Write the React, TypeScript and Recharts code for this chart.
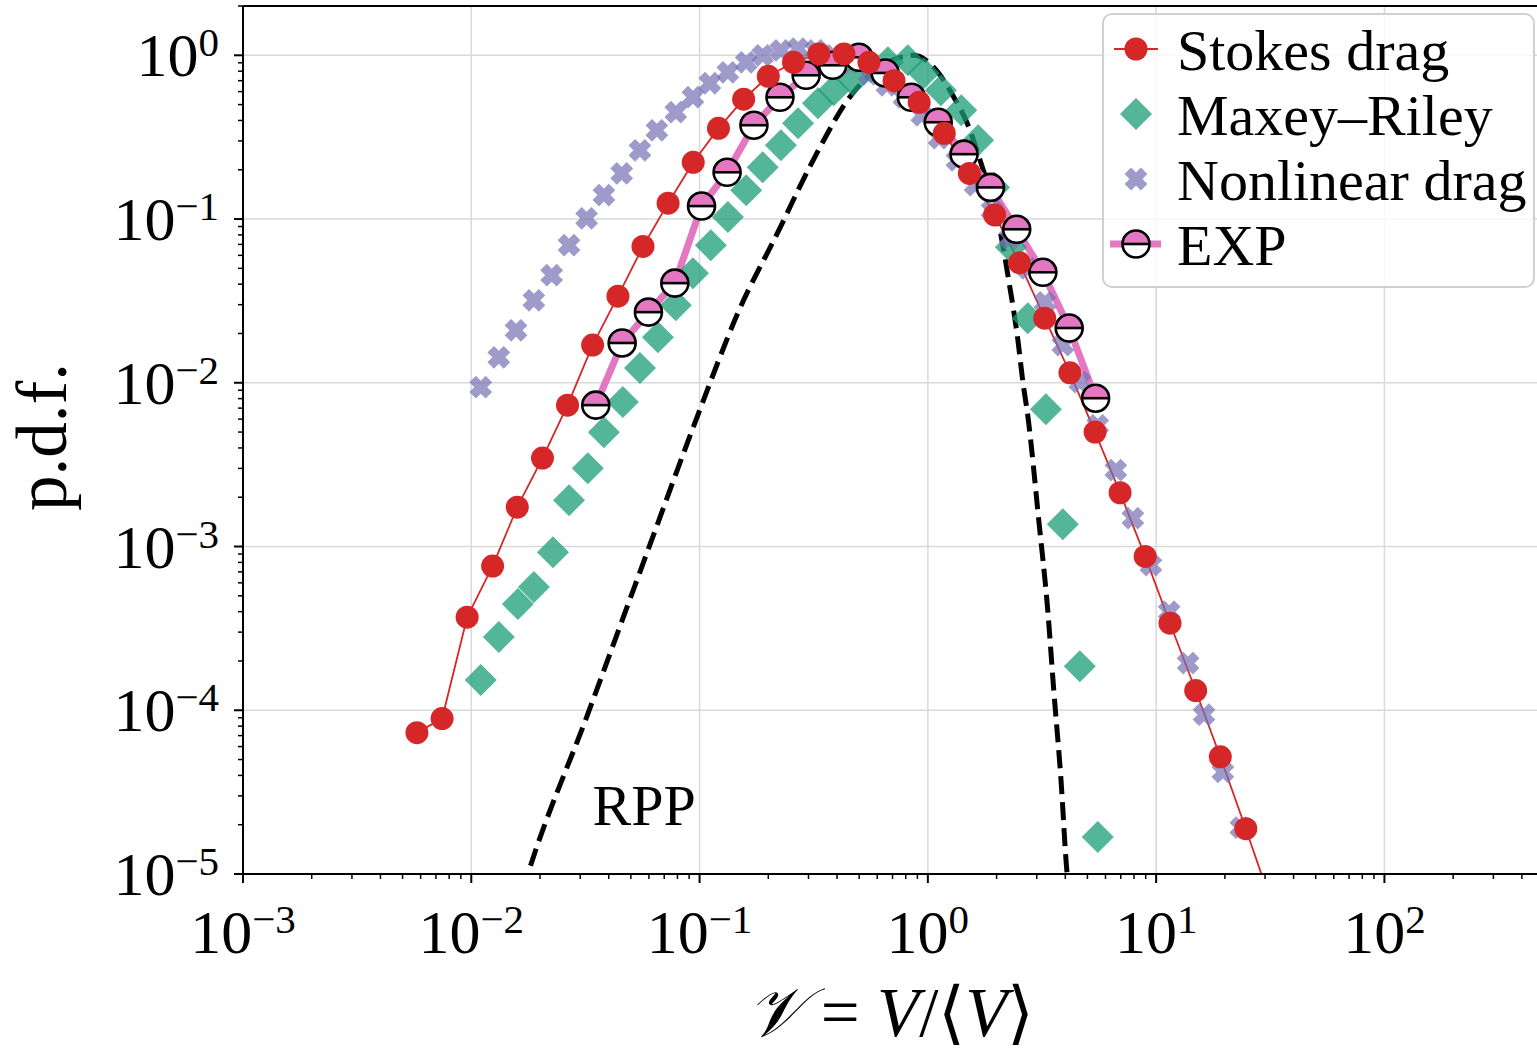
import React from 'react'
import {
  ComposedChart,
  Line,
  Scatter,
  XAxis,
  YAxis,
  CartesianGrid,
  Legend,
  ReferenceLine,
  ReferenceDot,
} from 'recharts'

const FONT = '"Liberation Serif", "Times New Roman", Times, serif'
const RED = '#d62728'
const GREEN = '#1b9e77'
const PURPLE = '#7570b3'
const PINK = '#e377c2'

// Stokes drag (red circles + thin line)
const stokesV = [0.00578, 0.00745, 0.00959, 0.0124, 0.0159, 0.0205, 0.0264, 0.034, 0.0439, 0.0565, 0.0728, 0.0938, 0.121, 0.156, 0.2, 0.258, 0.333, 0.429, 0.552, 0.711, 0.916, 1.18, 1.52, 1.96, 2.52, 3.25, 4.19, 5.4, 6.95, 8.95, 11.5, 14.9, 19.1, 24.7, 31.8]
const stokesPdf = [7.3e-5, 8.9e-5, 3.7e-4, 7.6e-4, 1.74e-3, 3.47e-3, 7.3e-3, 0.017, 0.0338, 0.068, 0.125, 0.222, 0.358, 0.539, 0.744, 0.906, 1.02, 1.02, 0.906, 0.7, 0.516, 0.334, 0.19, 0.106, 0.054, 0.0248, 0.0115, 5.0e-3, 2.13e-3, 8.7e-4, 3.4e-4, 1.32e-4, 5.2e-5, 1.89e-5, 6.8e-6]

// Maxey–Riley (green diamonds)
const maxeyV = [0.011, 0.0132, 0.016, 0.0188, 0.0228, 0.0268, 0.0324, 0.0381, 0.0461, 0.0548, 0.0657, 0.0787, 0.0935, 0.112, 0.133, 0.16, 0.189, 0.227, 0.27, 0.33, 0.387, 0.469, 0.563, 0.668, 0.817, 0.96, 1.14, 1.4, 1.66, 1.95, 2.31, 2.74, 3.29, 3.9, 4.63, 5.55]
const maxeyPdf = [1.53e-4, 2.8e-4, 4.45e-4, 5.65e-4, 9.24e-4, 1.92e-3, 3.01e-3, 4.99e-3, 7.62e-3, 0.0123, 0.019, 0.0298, 0.0467, 0.0692, 0.103, 0.15, 0.207, 0.282, 0.385, 0.509, 0.611, 0.703, 0.845, 0.906, 0.932, 0.776, 0.611, 0.461, 0.303, 0.156, 0.0673, 0.0248, 6.9e-3, 1.37e-3, 1.86e-4, 1.68e-5]

// Nonlinear drag (purple crosses)
const nonlinV = [0.011, 0.0132, 0.0157, 0.0188, 0.0225, 0.0268, 0.032, 0.0381, 0.0456, 0.0548, 0.065, 0.0787, 0.0935, 0.111, 0.133, 0.16, 0.189, 0.227, 0.27, 0.323, 0.387, 0.46, 0.551, 0.662, 0.785, 0.941, 1.12, 1.34, 1.61, 1.91, 2.29, 2.74, 3.26, 3.9, 4.63, 5.55, 6.66, 7.91, 9.49, 11.4, 13.8, 16.2, 19.6, 23.5, 28.2]
const nonlinPdf = [9.4e-3, 0.0143, 0.0209, 0.0319, 0.0454, 0.0692, 0.101, 0.14, 0.19, 0.263, 0.348, 0.449, 0.555, 0.675, 0.787, 0.906, 1.0, 1.07, 1.1, 1.07, 1.0, 0.906, 0.765, 0.656, 0.554, 0.43, 0.312, 0.228, 0.161, 0.113, 0.0764, 0.05, 0.031, 0.017, 0.0101, 5.5e-3, 2.93e-3, 1.49e-3, 7.7e-4, 4.0e-4, 1.94e-4, 9.4e-5, 4.2e-5, 1.92e-5, 8.6e-6]

// EXP (pink line, half-filled circles)
const expV = [0.0351, 0.0458, 0.0597, 0.0779, 0.102, 0.132, 0.173, 0.225, 0.293, 0.383, 0.499, 0.65, 0.847, 1.11, 1.44, 1.88, 2.45, 3.19, 4.16, 5.43]
const expPdf = [7.3e-3, 0.0175, 0.027, 0.0406, 0.12, 0.193, 0.374, 0.554, 0.755, 0.869, 0.972, 0.78, 0.554, 0.39, 0.249, 0.156, 0.0866, 0.0473, 0.0216, 8.05e-3]

// RPP (dashed curve)
const rppV = [0.0168, 0.0177, 0.0324, 0.0594, 0.0993, 0.147, 0.227, 0.278, 0.35, 0.429, 0.525, 0.655, 0.869, 1.06, 1.3, 1.5, 1.71, 1.89, 2.09, 2.26, 2.48, 2.61, 2.74, 3.06, 3.35, 3.56, 3.83, 4.06, 4.15]
const rppPdf = [7.9e-6, 1.0e-5, 9.5e-5, 9.5e-4, 6.6e-3, 0.0266, 0.0904, 0.163, 0.303, 0.495, 0.703, 0.894, 1.0, 0.845, 0.554, 0.374, 0.219, 0.14, 0.0796, 0.0423, 0.0182, 0.01, 6.3e-3, 1.45e-3, 4.1e-4, 1.33e-4, 3.75e-5, 1.06e-5, 7.9e-6]

const seriesNames = ['Stokes drag', 'Maxey–Riley', 'Nonlinear drag', 'EXP']

const xMajor = [0.001, 0.01, 0.1, 1, 10, 100]
const xExponents = ['−3', '−2', '−1', '0', '1', '2']
const xMinor = [
  0.002, 0.003, 0.004, 0.005, 0.006, 0.007, 0.008, 0.009,
  0.02, 0.03, 0.04, 0.05, 0.06, 0.07, 0.08, 0.09,
  0.2, 0.3, 0.4, 0.5, 0.6, 0.7, 0.8, 0.9,
  2, 3, 4, 5, 6, 7, 8, 9,
  20, 30, 40, 50, 60, 70, 80, 90,
  200, 300, 400, 500,
]
const yMajor = [0.00001, 0.0001, 0.001, 0.01, 0.1, 1]
const yExponents = ['−5', '−4', '−3', '−2', '−1', '0']
const yMinor = [
  0.00002, 0.00003, 0.00004, 0.00005, 0.00006, 0.00007, 0.00008, 0.00009,
  0.0002, 0.0003, 0.0004, 0.0005, 0.0006, 0.0007, 0.0008, 0.0009,
  0.002, 0.003, 0.004, 0.005, 0.006, 0.007, 0.008, 0.009,
  0.02, 0.03, 0.04, 0.05, 0.06, 0.07, 0.08, 0.09,
  0.2, 0.3, 0.4, 0.5, 0.6, 0.7, 0.8, 0.9,
  2,
]

const zip = (v: number[], p: number[]) => v.map((x, i) => ({ x, y: p[i] }))
const stokesData = zip(stokesV, stokesPdf)
const maxeyData = zip(maxeyV, maxeyPdf)
const nonlinData = zip(nonlinV, nonlinPdf)
const expData = zip(expV, expPdf)
const rppData = zip(rppV, rppPdf)

// filled "X" marker, unit outline (a plus rotated by 45 degrees)
const CROSS_UNIT = [
  [-0.212, 0.495], [0, 0.283], [0.212, 0.495], [0.495, 0.212], [0.283, 0], [0.495, -0.212],
  [0.212, -0.495], [0, -0.283], [-0.212, -0.495], [-0.495, -0.212], [-0.283, 0], [-0.495, 0.212],
]

function RedDot({ cx, cy }: any) {
  return <circle cx={cx} cy={cy} r={11.5} fill={RED} />
}

function DiamondMark({ cx, cy }: any) {
  const r = 16
  return (
    <polygon
      points={`${cx},${cy - r} ${cx + r},${cy} ${cx},${cy + r} ${cx - r},${cy}`}
      fill={GREEN}
      fillOpacity={0.75}
    />
  )
}

function CrossMark({ cx, cy }: any) {
  const s = 23
  const pts = CROSS_UNIT.map(([a, b]) => `${cx + a * s},${cy + b * s}`).join(' ')
  return <polygon points={pts} fill={PURPLE} fillOpacity={0.7} />
}

function HalfMark({ cx, cy }: any) {
  const r = 13.5
  return (
    <g>
      <path d={`M ${cx - r} ${cy} A ${r} ${r} 0 0 1 ${cx + r} ${cy} Z`} fill={PINK} />
      <path d={`M ${cx - r} ${cy} A ${r} ${r} 0 0 0 ${cx + r} ${cy} Z`} fill="#fff" />
      <circle cx={cx} cy={cy} r={r} fill="none" stroke="#000" strokeWidth={2.6} />
      <line x1={cx - r} x2={cx + r} y1={cy} y2={cy} stroke="#000" strokeWidth={2.6} />
    </g>
  )
}

function XTick({ x, y, payload }: any) {
  const i = xMajor.indexOf(payload.value)
  const major = i >= 0
  return (
    <g>
      <line x1={x} x2={x} y1={y} y2={y + (major ? 9 : 5)} stroke="#000" strokeWidth={major ? 2 : 1.5} />
      {major && (
        <text x={x} y={y + 79} textAnchor="middle" fontFamily={FONT} fontSize={62} fill="#000">
          10
          <tspan dy={-20} fontSize={41}>{xExponents[i]}</tspan>
        </text>
      )}
    </g>
  )
}

function YTick({ x, y, payload }: any) {
  const i = yMajor.indexOf(payload.value)
  const major = i >= 0
  return (
    <g>
      <line x1={x - (major ? 9 : 5)} x2={x} y1={y} y2={y} stroke="#000" strokeWidth={major ? 2 : 1.5} />
      {major && (
        <text x={x - 24} y={y + 21} textAnchor="end" fontFamily={FONT} fontSize={62} fill="#000">
          10
          <tspan dy={-20} fontSize={41}>{yExponents[i]}</tspan>
        </text>
      )}
    </g>
  )
}

const pdfLabel = ({ viewBox }: any) => {
  const cy = viewBox.y + viewBox.height / 2 - 3
  return (
    <text x={66} y={cy} transform={`rotate(-90 66 ${cy})`} textAnchor="middle" fontFamily={FONT} fontSize={71} fill="#000">
      p.d.f.
    </text>
  )
}

const vLabel = ({ viewBox }: any) => (
  <text x={viewBox.x + viewBox.width / 2 - 3} y={viewBox.y + 162} textAnchor="middle" fontFamily={FONT} fontSize={69} fill="#000">
    <tspan fontStyle="italic">𝒱</tspan>
    {' = '}
    <tspan fontStyle="italic">V</tspan>
    {'/⟨'}
    <tspan fontStyle="italic">V</tspan>
    {'⟩'}
  </text>
)

const rppLabel = ({ viewBox }: any) => (
  <text x={viewBox.x} y={viewBox.y} fontFamily={FONT} fontSize={58} fill="#000">
    RPP
  </text>
)

function LegendBox() {
  const handles = [
    (cy: number) => (
      <g>
        <line x1={10} x2={54} y1={cy} y2={cy} stroke={RED} strokeWidth={1.8} />
        <RedDot cx={32} cy={cy} />
      </g>
    ),
    (cy: number) => <DiamondMark cx={32} cy={cy} />,
    (cy: number) => <CrossMark cx={32} cy={cy} />,
    (cy: number) => (
      <g>
        <line x1={6} x2={57} y1={cy} y2={cy} stroke={PINK} strokeWidth={7} />
        <HalfMark cx={32} cy={cy} />
      </g>
    ),
  ]
  return (
    <svg width={429} height={271} style={{ display: 'block' }}>
      {seriesNames.map((name, i) => (
        <g key={name}>
          {handles[i](34 + i * 65)}
          <text x={73} y={55 + i * 65} fontFamily={FONT} fontSize={58} fill="#000">
            {name}
          </text>
        </g>
      ))}
    </svg>
  )
}

export default function App() {
  return (
    <div style={{ position: 'absolute', left: 0, top: 0, width: 1537, height: 1053, overflow: 'hidden', background: '#fff' }}>
      <ComposedChart width={1560} height={1053} margin={{ top: 6, right: 16, bottom: 0, left: 0 }}>
        <CartesianGrid stroke="#d9d9d9" strokeWidth={1.5} horizontalValues={yMajor} verticalValues={xMajor} />
        <XAxis
          type="number"
          dataKey="x"
          scale="log"
          domain={[0.001, 500]}
          allowDataOverflow
          ticks={[...xMajor, ...xMinor]}
          interval={0}
          tick={<XTick />}
          tickLine={false}
          tickSize={0}
          tickMargin={0}
          height={179}
          axisLine={{ stroke: '#000', strokeWidth: 2 }}
          label={{ content: vLabel }}
        />
        <YAxis
          type="number"
          dataKey="y"
          scale="log"
          domain={[0.00001, 2]}
          allowDataOverflow
          ticks={[...yMajor, ...yMinor]}
          interval={0}
          tick={<YTick />}
          tickLine={false}
          tickSize={0}
          tickMargin={0}
          width={243}
          axisLine={{ stroke: '#000', strokeWidth: 2 }}
          label={{ content: pdfLabel }}
        />
        <ReferenceLine y={2} stroke="#000" strokeWidth={2} />
        <Line
          data={rppData}
          dataKey="y"
          type="monotone"
          stroke="#000"
          strokeWidth={5}
          strokeDasharray="18 8"
          dot={false}
          activeDot={false}
          legendType="none"
          isAnimationActive={false}
        />
        <Line
          data={expData}
          dataKey="y"
          name="EXP"
          type="linear"
          stroke={PINK}
          strokeWidth={7}
          dot={(p: any) => <HalfMark key={`exp-${p.index}`} cx={p.cx} cy={p.cy} />}
          activeDot={false}
          isAnimationActive={false}
        />
        <Line
          data={stokesData}
          dataKey="y"
          name="Stokes drag"
          type="linear"
          stroke={RED}
          strokeWidth={1.8}
          dot={(p: any) => <RedDot key={`st-${p.index}`} cx={p.cx} cy={p.cy} />}
          activeDot={false}
          isAnimationActive={false}
        />
        <Scatter
          data={maxeyData}
          dataKey="y"
          name="Maxey–Riley"
          shape={(p: any) => <DiamondMark cx={p.cx} cy={p.cy} />}
          isAnimationActive={false}
        />
        <Scatter
          data={nonlinData}
          dataKey="y"
          name="Nonlinear drag"
          shape={(p: any) => <CrossMark cx={p.cx} cy={p.cy} />}
          isAnimationActive={false}
        />
        <ReferenceDot x={0.034} y={0.00002} r={0} fill="none" stroke="none" label={{ content: rppLabel }} />
        <Legend
          layout="vertical"
          align="center"
          verticalAlign="middle"
          content={() => <LegendBox />}
          wrapperStyle={{
            left: 1102,
            top: 13,
            width: 433,
            height: 275,
            boxSizing: 'border-box',
            background: 'rgba(255,255,255,0.8)',
            border: '2px solid #d0d0d0',
            borderRadius: 10,
          }}
        />
      </ComposedChart>
    </div>
  )
}
